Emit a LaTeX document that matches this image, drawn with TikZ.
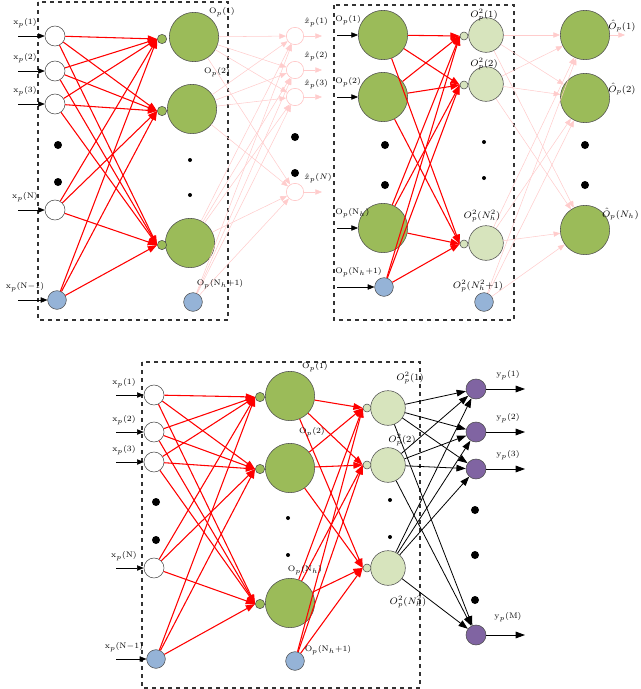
\documentclass[tikz,border=0pt]{standalone}
\usetikzlibrary{arrows.meta}
\definecolor{og}{HTML}{9BBB59}
\definecolor{lg}{HTML}{D7E4BD}
\definecolor{bb}{HTML}{95B3D7}
\definecolor{pp}{HTML}{8064A2}
\begin{document}
\begin{tikzpicture}[x=0.75pt,y=-0.75pt,
 inp/.style={circle,draw=black!70,fill=white,minimum size=15pt,inner sep=0},
 bias/.style={circle,draw=black!70,fill=bb,minimum size=14pt,inner sep=0},
 big/.style={circle,draw=black!70,fill=og,minimum size=37pt,inner sep=0},
 sm/.style={circle,draw=black!70,fill=og,minimum size=7pt,inner sep=0},
 lbig/.style={circle,draw=black!70,fill=lg,minimum size=26pt,inner sep=0},
 lsm/.style={circle,draw=black!70,fill=lg,minimum size=6pt,inner sep=0},
 pout/.style={circle,draw=red!25,fill=white,minimum size=13pt,inner sep=0},
 purp/.style={circle,draw=black!70,fill=pp,minimum size=15pt,inner sep=0},
 dotn/.style={circle,fill=black,minimum size=6pt,inner sep=0},
 sdot/.style={circle,fill=black,minimum size=3pt,inner sep=0},
 redarr/.style={red,thick,-{Triangle[length=7pt,width=5pt]}},
 pinkarr/.style={red!20,-{Triangle[length=5pt,width=4pt]}},
 blkarr/.style={black,semithick,-{Triangle[length=7pt,width=5pt]}},
 inarr/.style={black,-{Triangle[length=5pt,width=4pt]}},
 box/.style={dashed,thick,black!80},
 lab/.style={font=\fontsize{6}{7}\selectfont,inner sep=0},
 mlab/.style={font=\fontsize{7}{8}\selectfont,inner sep=0}]
\useasboundingbox (0,0) rectangle (640,689);
% ---------- top left ----------
\draw[box] (38,2) rectangle (228,320);
\foreach \n/\y in {1/36,2/71,3/104,4/210}{\node[inp] (a\n) at (55,\y) {};}
\node[bias] (a5) at (57,300) {};
\foreach \y in {145,182}{\node[dotn] at (58,\y) {};}
\foreach \n/\y/\r in {1/37/194,2/109/192,3/243/190}{
 \node[big] (h\n) at (\r,\y) {};
 \node[sm] (s\n) at (162,\y+2) {};}
\foreach \y in {160,195}{\node[sdot] at (190,\y) {};}
\node[bias] (hb) at (193,302) {};
\foreach \n/\y in {1/36,2/70,3/97,4/192}{\node[pout] (o\n) at (295,\y) {};
 \coordinate (oe\n) at (322,\y);}
\foreach \y in {137,173}{\node[dotn] at (295,\y) {};}
\foreach \i in {1,...,5}{\foreach \j in {1,2,3}{\draw[redarr] (a\i) -- (s\j.west);}}
\foreach \i in {1,2,3}{\foreach \j in {1,...,4}{\draw[pinkarr] (h\i) -- (o\j);}}
\foreach \j in {1,...,4}{\draw[pinkarr] (hb) -- (o\j); \draw[pinkarr] (o\j) -- (oe\j);}
\foreach \n/\y/\t in {1/36/{x$_p$(1)},2/71/{x$_p$(2)},3/104/{x$_p$(3)},4/210/{x$_p$(N)},5/300/{x$_p$(N$-$1)}}{
 \coordinate (ai\n) at (18,\y); \draw[inarr] (ai\n) -- (a\n);
 \node[lab] at (25,\y-13) {\t};}
\node[lab] at (222,12) {O$_p$(1)};
\node[lab] at (217,72) {O$_p$(2)};
\node[lab] at (220,284) {O$_p$(N$_h$+1)};
\node[lab,anchor=west] at (304,22) {$\hat{x}_p(1)$};
\node[lab,anchor=west] at (304,56) {$\hat{x}_p(2)$};
\node[lab,anchor=west] at (304,84) {$\hat{x}_p(3)$};
\node[lab,anchor=west] at (304,178) {$\hat{x}_p(N)$};
% ---------- top right ----------
\draw[box] (334,5) rectangle (514,320);
\foreach \n/\y in {1/35,2/97,3/228}{\node[big] (g\n) at (383,\y) {};}
\node[bias] (gb) at (384,287) {};
\foreach \y in {145,185}{\node[dotn] at (385,\y) {};}
\foreach \n/\y in {1/35,2/84,3/243}{\node[lbig] (l\n) at (486,\y) {}; \node[lsm] (ls\n) at (464,\y+1) {};}
\foreach \y in {142,178}{\node[sdot] at (484,\y) {};}
\node[bias] (lb) at (484,302) {};
\foreach \n/\y in {1/35,2/98,3/230}{\node[big] (q\n) at (585,\y) {};}
\foreach \y in {145,185}{\node[dotn] at (585,\y) {};}
\coordinate (qe1) at (625,35);
\draw[pinkarr] (q1) -- (qe1);
\foreach \i in {g1,g2,g3,gb}{\foreach \j in {1,2,3}{\draw[redarr] (\i) -- (ls\j.west);}}
\foreach \i in {l1,l2,l3,lb}{\foreach \j in {1,2,3}{\draw[pinkarr] (\i) -- (q\j);}}
\foreach \n/\y/\t in {g1/35/{O$_p$(1)},g2/97/{O$_p$(2)},g3/228/{O$_p$(N$_h$)},gb/287/{O$_p$(N$_h$+1)}}{
 \coordinate (gi\n) at (337,\y); \draw[inarr] (gi\n) -- (\n);
 \node[lab,anchor=west] at (335,\y-15) {\t};}
\node[mlab] at (484,15) {$O_p^2(1)$};
\node[mlab] at (484,64) {$O_p^2(2)$};
\node[mlab] at (482,216) {$O_p^2(N_h^2)$};
\node[mlab] at (478,286) {$O_p^2(N_h^2{+}1)$};
\node[mlab,anchor=west] at (608,26) {$\hat{O}_p(1)$};
\node[mlab,anchor=west] at (608,89) {$\hat{O}_p(2)$};
\node[mlab,anchor=east] at (639,214) {$\hat{O}_p(N_h)$};
% ---------- bottom ----------
\draw[box] (142,362) rectangle (420,688);
\foreach \n/\y in {1/395,2/432,3/462,4/568}{\node[inp] (b\n) at (154,\y) {};}
\node[bias] (b5) at (156,659) {};
\foreach \y in {502,540}{\node[dotn] at (156,\y) {};}
\foreach \n/\y in {1/396,2/468,3/603}{\node[big] (c\n) at (290,\y) {}; \node[sm] (cs\n) at (260,\y+1) {};}
\foreach \y in {518,555}{\node[sdot] at (288,\y) {};}
\node[bias] (cb) at (295,661) {};
\foreach \n/\y in {1/408,2/465,3/568}{\node[lbig] (d\n) at (388,\y) {}; \node[lsm] (ds\n) at (367,\y) {};}
\foreach \y in {500,537}{\node[sdot] at (390,\y) {};}
\foreach \n/\y in {1/389,2/432,3/469,4/635}{\node[purp] (e\n) at (476,\y) {};
 \coordinate (ee\n) at (525,\y); \draw[blkarr] (e\n) -- (ee\n);}
\foreach \y in {510,555,600}{\node[dotn] at (475,\y) {};}
\foreach \i in {1,...,5}{\foreach \j in {1,2,3}{\draw[redarr] (b\i) -- (cs\j.west);}}
\foreach \i in {c1,c2,c3,cb}{\foreach \j in {1,2,3}{\draw[redarr] (\i) -- (ds\j.west);}}
\foreach \i in {1,2,3}{\foreach \j in {1,...,4}{\draw[blkarr] (d\i) -- (e\j);}}
\foreach \n/\y/\t in {1/395/{x$_p$(1)},2/432/{x$_p$(2)},3/462/{x$_p$(3)},4/568/{x$_p$(N)},5/659/{x$_p$(N$-$1)}}{
 \coordinate (bi\n) at (116,\y); \draw[inarr] (bi\n) -- (b\n);
 \node[lab] at (124,\y-12) {\t};}
\node[lab] at (315,367) {O$_p$(1)};
\node[lab] at (312,432) {O$_p$(2)};
\node[lab] at (305,570) {O$_p$(N$_h$)};
\node[lab] at (328,650) {O$_p$(N$_h$+1)};
\node[mlab] at (410,378) {$O_p^2(1)$};
\node[mlab] at (402,440) {$O_p^2(2)$};
\node[mlab] at (408,602) {$O_p^2(N_h^2)$};
\node[lab] at (508,375) {y$_p$(1)};
\node[lab] at (508,418) {y$_p$(2)};
\node[lab] at (508,455) {y$_p$(3)};
\node[lab] at (508,617) {y$_p$(M)};
\end{tikzpicture}
\end{document}
